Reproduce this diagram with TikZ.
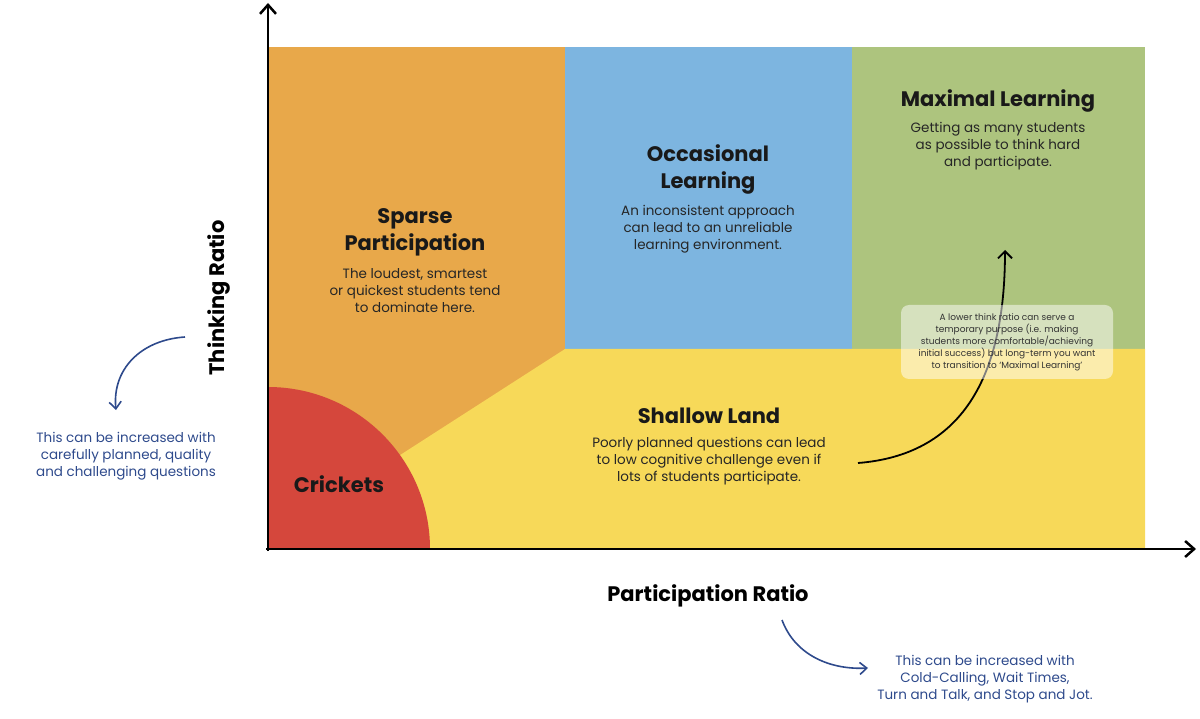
\documentclass[tikz,border=0pt]{standalone}
\usepackage{fontspec}
\setmainfont{Poppins}
\usetikzlibrary{arrows.meta}
\definecolor{cor}{HTML}{E8A84A}
\definecolor{cbl}{HTML}{7DB5E0}
\definecolor{cgr}{HTML}{ADC47E}
\definecolor{cye}{HTML}{F7D959}
\definecolor{cre}{HTML}{D5473C}
\definecolor{cnote}{HTML}{2E4A8C}
\begin{document}
\begin{tikzpicture}[x=1pt,y=-1pt,
 ttl/.style={font=\fontsize{21}{27}\selectfont\bfseries,align=center,text=black!90},
 body/.style={font=\fontsize{13.5}{17}\selectfont,align=center,text=black!85},
 blue/.style={font=\fontsize{13.5}{17}\selectfont,align=center,text=cnote},
 barr/.style={draw=cnote,line width=1.6pt,-{Straight Barb[length=7pt,width=12pt]}}]
\useasboundingbox (0,0) rectangle (1200,719);
\fill[cor] (268,47) rectangle (565,549);
\fill[cbl] (565,47) rectangle (852,349);
\fill[cgr] (852,47) rectangle (1145,349);
\fill[cye] (565,349) -- (1145,349) -- (1145,549) -- (268,549) -- (268,540) -- cycle;
\fill[cre] (268,549) -- (268,387) arc[start angle=-90,end angle=0,radius=162] -- cycle;
\draw[line width=2.5pt,-{Straight Barb[length=9pt,width=16pt]}] (268,551) -- (268,3);
\draw[line width=2.5pt,-{Straight Barb[length=9pt,width=16pt]}] (266,549) -- (1196,549);
\node[ttl] (sp) at (415,232) {Sparse\\Participation};
\node[body,anchor=north] (spb) at (415,265) {The loudest, smartest\\or quickest students tend\\to dominate here.};
\node[ttl] (oc) at (708,169) {Occasional\\Learning};
\node[body,anchor=north] (ocb) at (708,202) {An inconsistent approach\\can lead to an unreliable\\learning environment.};
\node[ttl] (ml) at (998,101) {Maximal Learning};
\node[body,anchor=north] (mlb) at (998,119) {Getting as many students\\as possible to think hard\\and participate.};
\node[ttl] (sl) at (709,416) {Shallow Land};
\node[body,anchor=north] (slb) at (709,434) {Poorly planned questions can lead\\to low cognitive challenge even if\\lots of students participate.};
\node[ttl] (cr) at (339,484) {Crickets};
\coordinate (a1) at (858,463);
\coordinate (a2) at (1005,250);
\draw[line width=1.8pt,-{Straight Barb[length=7pt,width=14pt]}] (a1) .. controls (960,455) and (1005,380) .. (a2);
\node[fill=white,fill opacity=0.5,text opacity=1,rounded corners=8pt,minimum width=212pt,minimum height=74pt,font=\fontsize{9}{12}\selectfont,align=center,text=black!80] (note) at (1007,342) {A lower think ratio can serve a\\temporary purpose (i.e. making\\students more comfortable/achieving\\initial success) but long-term you want\\to transition to ‘Maximal Learning’};
\node[font=\fontsize{21}{25}\selectfont\bfseries,rotate=90] (yl) at (219,298) {Thinking Ratio};
\node[font=\fontsize{21}{25}\selectfont\bfseries] (xl) at (708,596) {Participation Ratio};
\coordinate (b1) at (185,337);
\coordinate (b2) at (116,410);
\draw[barr] (b1) .. controls (140,340) and (112,370) .. (b2);
\node[blue] (t1) at (126,456) {This can be increased with\\carefully planned, quality\\and challenging questions};
\coordinate (c1) at (782,620);
\coordinate (c2) at (868,668);
\draw[barr] (c1) .. controls (795,655) and (830,670) .. (c2);
\node[blue] (t2) at (985,679) {This can be increased with\\Cold-Calling, Wait Times,\\Turn and Talk, and Stop and Jot.};
\end{tikzpicture}
\end{document}
